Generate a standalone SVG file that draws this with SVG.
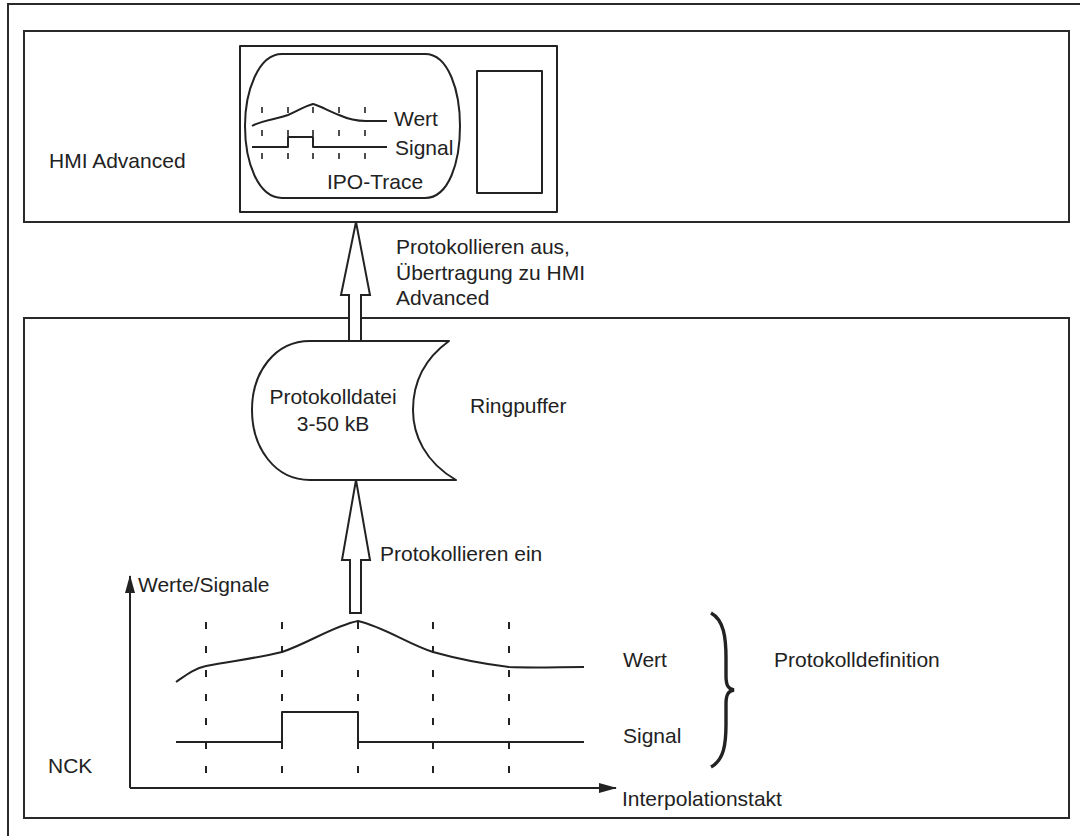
<svg xmlns="http://www.w3.org/2000/svg" width="1080" height="836" viewBox="0 0 1080 836">
  <style>
    .frame { fill: none; stroke: #2a2a2a; stroke-width: 2; }
    .line { fill: none; stroke: #222; stroke-width: 2; stroke-linejoin: round; }
    .hollow { fill: #fff; stroke: #222; stroke-width: 2; stroke-linejoin: miter; }
    .dash { fill: none; stroke: #222; stroke-width: 2; stroke-dasharray: 7 17; }
    .tick { fill: none; stroke: #222; stroke-width: 1.6; }
    text { font-family: "Liberation Sans", Arial, sans-serif; font-size: 21px; fill: #222; }
  </style>
  <defs>
    <marker id="filledHead" viewBox="0 0 18 10" refX="17" refY="5" markerWidth="18" markerHeight="10" markerUnits="userSpaceOnUse" orient="auto">
      <path d="M0,0 L18,5 L0,10 Z" fill="#222"/>
    </marker>
  </defs>

  <rect width="1080" height="836" fill="#fff"/>

  <!-- outer frame, running past the right and bottom edges -->
  <rect x="8" y="4" width="1200" height="1000" class="frame"/>

  <!-- HMI Advanced area -->
  <g id="hmi">
    <rect x="24" y="31" width="1045" height="191" class="frame"/>
    <text x="49" y="168">HMI Advanced</text>
  </g>

  <!-- operator screen with IPO trace -->
  <g id="monitor">
    <rect x="240" y="46" width="317" height="166" class="line"/>
    <path d="M282,54 L425,54 C449,54 460,92 460,126 C460,162 449,198 425,198 L282,198 C258,198 245,162 245,126 C245,92 258,54 282,54 Z" class="line"/>
    <rect x="477" y="71" width="65" height="122" class="line"/>
    <g class="tick">
      <path d="M262,107 v6 M288,107 v6 M313,107 v6 M339,107 v6 M365,107 v6"/>
      <path d="M262,130 v6 M288,130 v6 M313,130 v6 M339,130 v6 M365,130 v6"/>
      <path d="M262,153 v6 M288,153 v6 M313,153 v6 M339,153 v6 M365,153 v6"/>
    </g>
    <path d="M252,126 C262,120 278,119 288,115 C297,111 305,106 313,104 C321,106 330,112 339,115 C348,119 357,121 366,121 L387,121" class="line"/>
    <path d="M252,147 L288,147 L288,137 L313,137 L313,147 L387,147" class="line"/>
    <text x="394" y="126">Wert</text>
    <text x="395" y="155">Signal</text>
    <text x="327" y="189">IPO-Trace</text>
  </g>

  <!-- NCK area -->
  <g id="nck">
    <rect x="24" y="318" width="1045" height="500" class="frame"/>
    <text x="48" y="773">NCK</text>
  </g>

  <!-- ring buffer log file -->
  <g id="logfile">
    <path d="M310,341 L449,341 C420,362 413,388 413,410 C413,435 425,462 456,480 L310,480 C275,480 252,448 252,410 C252,372 275,341 310,341 Z" class="line"/>
    <text x="333" y="404" text-anchor="middle">Protokolldatei</text>
    <text x="333" y="431" text-anchor="middle">3-50 kB</text>
    <text x="470" y="413">Ringpuffer</text>
  </g>

  <!-- transfer arrows -->
  <g id="connectors">
    <path d="M356,222 L370,295 L361,295 L361,341 L349,341 L349,295 L341,295 Z" class="hollow"/>
    <path d="M356,480 L370,560 L361,560 L361,613 L350,613 L350,560 L342,560 Z" class="hollow"/>
  </g>
  <g id="labels">
    <text x="396" y="254">Protokollieren aus,</text>
    <text x="396" y="280">Übertragung zu HMI</text>
    <text x="396" y="305">Advanced</text>
    <text x="380" y="561">Protokollieren ein</text>
  </g>

  <!-- recorded values over the interpolation cycle -->
  <g id="chart">
    <path d="M130,788 L130,576" class="line" marker-end="url(#filledHead)"/>
    <path d="M130,788 L616,788" class="line" marker-end="url(#filledHead)"/>
    <text x="138" y="592">Werte/Signale</text>
    <text x="622" y="806">Interpolationstakt</text>
    <g class="dash">
      <path d="M206,622 V776"/>
      <path d="M282,622 V776"/>
      <path d="M358,622 V776"/>
      <path d="M433,622 V776"/>
      <path d="M509,622 V776"/>
    </g>
    <path d="M176,682 C186,675 195,668 206,666 C232,661 258,658 282,652 C309,643 333,626 358,621 C384,627 408,644 433,652 C458,659 484,664 509,667 C534,668 560,667 584,667" class="line"/>
    <path d="M176,742 L282,742 L282,712 L358,712 L358,742 L584,742" class="line"/>
    <text x="623" y="667">Wert</text>
    <text x="623" y="743">Signal</text>
  </g>

  <!-- brace grouping both traces -->
  <g id="definition">
    <path d="M711,613 C724,620 726,638 726,658 L726,676 C726,685 728,689 734,690 C728,691 726,695 726,704 L726,724 C726,744 724,760 711,767" fill="none" stroke="#222" stroke-width="3.4"/>
    <text x="774" y="667">Protokolldefinition</text>
  </g>
</svg>
